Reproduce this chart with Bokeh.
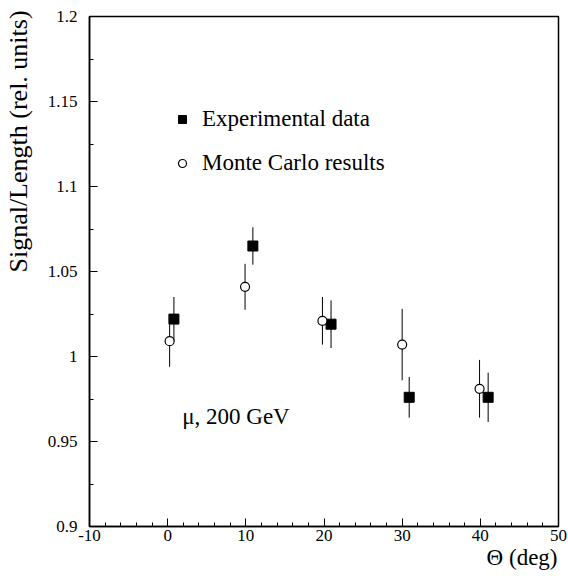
from bokeh.plotting import figure
from bokeh.models import FixedTicker, Label, Legend, LegendItem, Range1d, Title
from bokeh.embed import file_html
from bokeh.resources import INLINE

# ---- data ----
exp_x = [0.8, 10.9, 20.9, 30.9, 41.0]
exp_y = [1.022, 1.065, 1.019, 0.976, 0.976]
exp_err = [0.013, 0.011, 0.014, 0.012, 0.0145]

mc_x = [0.25, 9.9, 19.8, 30.0, 39.9]
mc_y = [1.009, 1.041, 1.021, 1.007, 0.981]
mc_err = [0.015, 0.0135, 0.014, 0.021, 0.017]

x_ticks = [-10, 0, 10, 20, 30, 40, 50]
x_tick_labels = ["-10", "0", "10", "20", "30", "40", "50"]
x_minor = [v for v in range(-10, 51, 2)]
y_ticks = [0.9, 0.95, 1.0, 1.05, 1.1, 1.15, 1.2]
y_tick_labels = ["0.9", "0.95", "1", "1.05", "1.1", "1.15", "1.2"]
y_minor = [0.9 + 0.025 * i for i in range(13)]

series_names = ["Experimental data", "Monte Carlo results"]
note_text = "\u03bc, 200 GeV"
x_label = "\u0398 (deg)"
y_label = "Signal/Length (rel. units)"

FONT = "Liberation Serif"

p = figure(
    width=568, height=578,
    frame_width=469, frame_height=510,
    min_border_left=89, min_border_right=10,
    min_border_top=16, min_border_bottom=52,
    x_range=Range1d(-10, 50), y_range=Range1d(0.9, 1.2),
    output_backend="svg", toolbar_location=None,
)
p.background_fill_color = "white"
p.border_fill_color = "white"
p.grid.visible = False
p.outline_line_color = "black"
p.outline_line_width = 1.5

p.xaxis.ticker = FixedTicker(ticks=x_ticks, minor_ticks=x_minor)
p.yaxis.ticker = FixedTicker(ticks=y_ticks, minor_ticks=y_minor)
p.xaxis.major_label_overrides = {t: l for t, l in zip(x_ticks, x_tick_labels)}
p.yaxis.major_label_overrides = {t: l for t, l in zip(y_ticks, y_tick_labels)}

for ax in (p.xaxis[0], p.yaxis[0]):
    ax.axis_line_color = "black"
    ax.axis_line_width = 1.5
    ax.major_tick_in = 8
    ax.major_tick_out = 0
    ax.minor_tick_in = 4
    ax.minor_tick_out = 0
    ax.major_tick_line_color = "black"
    ax.minor_tick_line_color = "black"
    ax.major_label_text_font = FONT
    ax.major_label_text_font_size = "17px"
    ax.major_label_text_color = "black"
    ax.axis_label_text_font = FONT
    ax.axis_label_text_font_style = "normal"
    ax.axis_label_text_color = "black"
p.xaxis.major_label_standoff = 3
p.yaxis.major_label_standoff = 12

# y label: the reference places it towards the top of the axis; leading
# em-space padding pushes the centred text up to the top of the frame
p.yaxis.axis_label = "\u2003" * 10 + y_label
p.yaxis.axis_label_text_font_size = "26px"
p.yaxis.axis_label_standoff = 12

# x label: right-aligned title under the axis
p.add_layout(Title(text=x_label, align="right", vertical_align="top",
                   text_font=FONT, text_font_size="23px",
                   text_font_style="normal", text_color="black",
                   standoff=2, offset=1), "below")

# error bars
p.segment(x0=exp_x, y0=[y - e for y, e in zip(exp_y, exp_err)],
          x1=exp_x, y1=[y + e for y, e in zip(exp_y, exp_err)],
          line_color="black", line_width=1)
p.segment(x0=mc_x, y0=[y - e for y, e in zip(mc_y, mc_err)],
          x1=mc_x, y1=[y + e for y, e in zip(mc_y, mc_err)],
          line_color="black", line_width=1)

r_exp = p.scatter(exp_x, exp_y, marker="square", size=10,
                  fill_color="black", line_color="black")
r_mc = p.scatter(mc_x, mc_y, marker="circle", size=9,
                 fill_color="white", line_color="black", line_width=1.2)

legend = Legend(
    items=[LegendItem(label=series_names[0], renderers=[r_exp]),
           LegendItem(label=series_names[1], renderers=[r_mc])],
    location=(83, 350),
    padding=0, margin=0, spacing=18,
    glyph_width=20, glyph_height=20, label_height=20,
    label_standoff=10,
    label_text_font=FONT, label_text_font_size="23px",
    label_text_color="black",
    border_line_color=None, background_fill_alpha=0,
)
p.add_layout(legend)

p.add_layout(Label(x=1.86, y=0.9647, text=note_text,
                   text_font=FONT, text_font_size="23px",
                   text_color="black", text_baseline="alphabetic"))

open("out.html", "w").write(file_html(p, INLINE))
